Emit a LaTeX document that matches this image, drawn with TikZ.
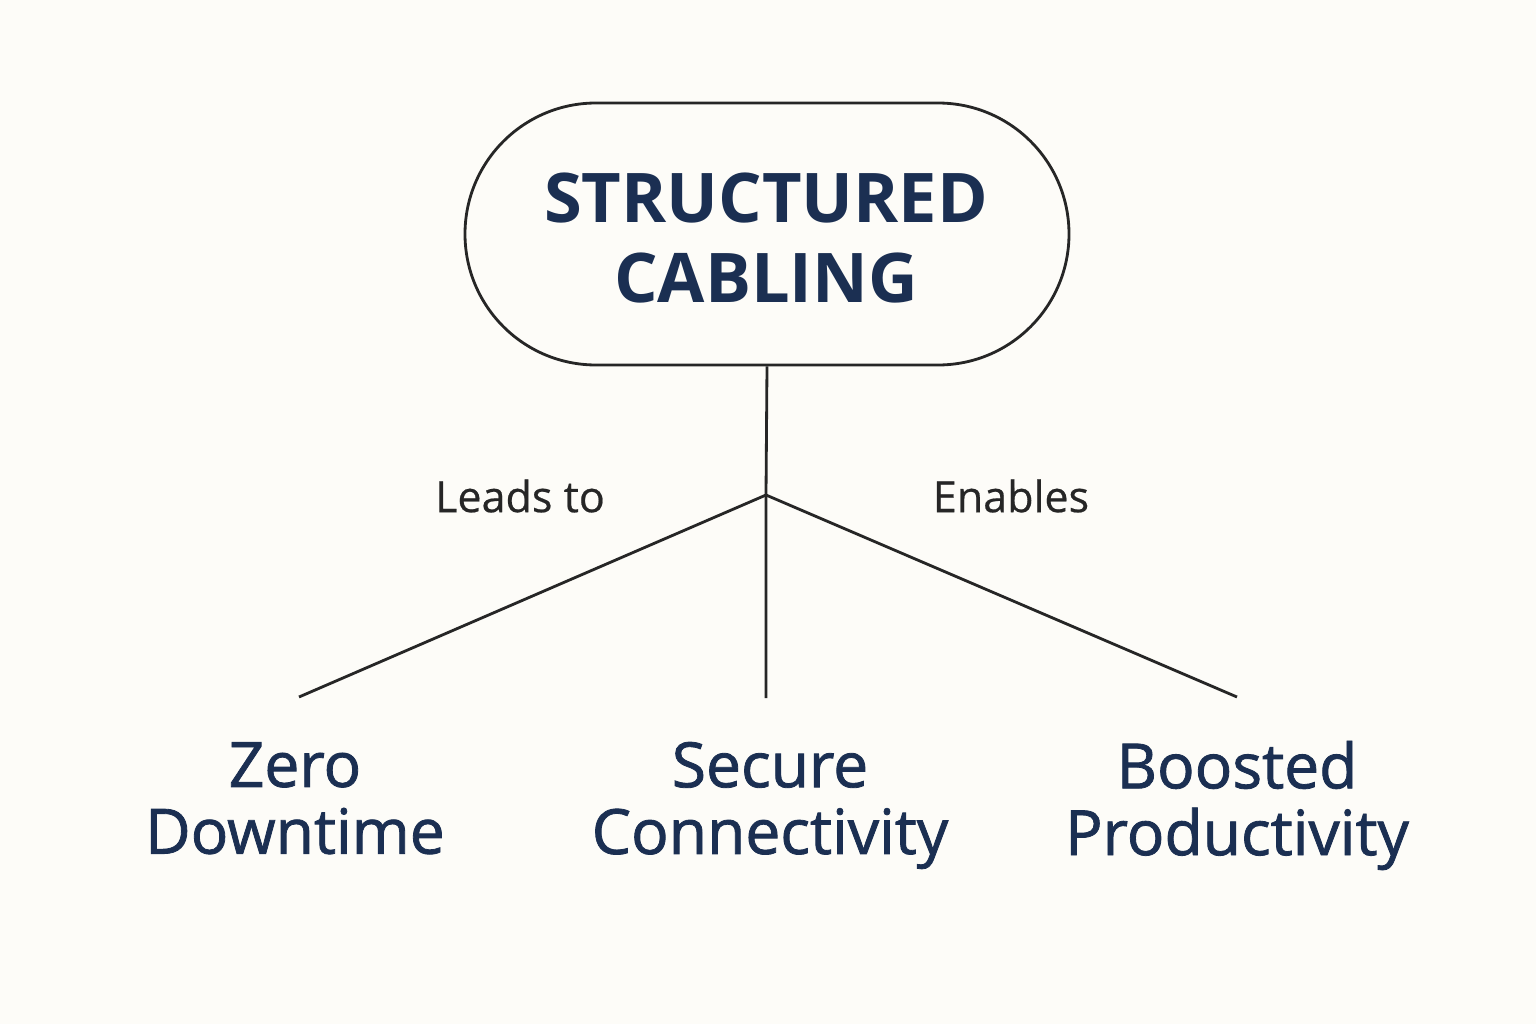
\documentclass[tikz,border=0pt]{standalone}
\usepackage{fontspec}
\setmainfont{Open Sans}
\newfontfamily\leaffont{Open Sans}[FakeBold=1.3]
\newfontfamily\labfont{Open Sans}[FakeBold=0.5]
\definecolor{navy}{HTML}{1B2F52}
\definecolor{bg}{HTML}{FDFCF8}
\begin{document}
\begin{tikzpicture}[x=0.02cm,y=-0.02cm,
  line/.style={line width=1.6pt,draw=black!85},
  title/.style={font=\fontsize{39}{45}\selectfont\bfseries,text=navy,align=center},
  leaf/.style={font=\leaffont\fontsize{35.5}{38}\selectfont,text=navy,align=center},
  lab/.style={font=\labfont\fontsize{24.5}{26}\selectfont,text=black!85}]
\fill[bg] (0,0) rectangle (1536,1024);
\useasboundingbox (0,0) rectangle (1536,1024);
\node[line,rounded corners=131*0.02cm,minimum width=604*0.02cm,minimum height=262*0.02cm,inner sep=0] (root) at (767,234) {};
\node[title] (t) at (766,238) {STRUCTURED\\CABLING};
\coordinate (j) at (766,495);
\coordinate (l) at (299,697);
\coordinate (m) at (766,698);
\coordinate (r) at (1237,697);
\draw[line] (root.south) -- (j) -- (m);
\draw[line] (j) -- (l);
\draw[line] (j) -- (r);
\node[lab] (a) at (520,496) {Leads to};
\node[lab] (b) at (1011,496) {Enables};
\node[leaf,text depth=0pt] (z) at (295,798) {Zero\\Downtime};
\node[leaf,text depth=0pt] (s) at (770,798) {Secure\\Connectivity};
\node[leaf,text depth=0pt] (p) at (1237,798) {Boosted\\Productivity};
\end{tikzpicture}
\end{document}
